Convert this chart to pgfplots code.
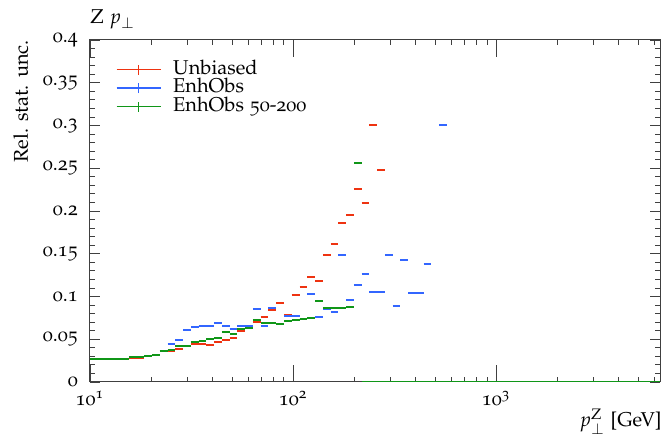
\documentclass[border=0pt]{standalone}
\usepackage[T1]{fontenc}
\usepackage[osf]{mathpazo}
\usepackage{pgfplots}
\usepackage{pgfplotstable}
\pgfplotsset{compat=1.18}
\definecolor{rvred}{HTML}{EE3311}
\definecolor{rvblue}{HTML}{3366FF}
\definecolor{rvgreen}{HTML}{109618}
\newcommand{\lblfont}{\fontsize{10}{12}\selectfont}

% left bin edge, value (last row = right end)
\pgfplotstableread{
x y
10 0.0265
10.919 0.0265
11.923 0.0265
13.020 0.0265
14.217 0.0265
15.524 0.028
16.951 0.028
18.510 0.030
20.212 0.032
22.070 0.036
24.099 0.036
26.315 0.038
28.734 0.042
31.376 0.045
34.261 0.044
37.411 0.043
40.851 0.047
44.607 0.049
48.708 0.052
53.186 0.060
58.077 0.063
63.417 0.070
69.248 0.076
75.615 0.084
82.568 0.092
90.160 0.078
98.449 0.102
107.50 0.111
117.39 0.123
128.18 0.118
139.96 0.149
152.83 0.161
166.88 0.186
182.23 0.195
198.98 0.226
217.27 0.209
237.25 0.301
259.06 0.2475
282.88 0
6400 0
}\unbiased

\pgfplotstableread{
x y
10 0.0265
10.919 0.0265
11.923 0.0265
13.020 0.0265
14.217 0.0265
15.524 0.029
16.951 0.029
18.510 0.030
20.212 0.032
22.070 0.036
24.099 0.045
26.315 0.049
28.734 0.061
31.376 0.064
34.261 0.0655
37.411 0.0655
40.851 0.0686
44.607 0.065
48.708 0.0616
53.186 0.0655
58.077 0.0655
63.417 0.0854
69.248 0.066
75.615 0.086
82.568 0.068
90.160 0.0776
98.449 0.0776
107.50 0.074
117.39 0.1026
128.18 0.0764
139.96 0.085
152.83 0.082
166.88 0.149
182.23 0.096
198.98 0.1134
217.27 0.126
237.25 0.1056
259.06 0.1056
282.88 0.149
308.89 0.0889
337.29 0.1427
368.30 0.1045
402.16 0.1045
439.14 0.138
479.52 0
523.61 0.300
571.75 0
6400 0
}\enhobs

\pgfplotstableread{
x y
10 0.0265
10.919 0.0265
11.923 0.0265
13.020 0.0265
14.217 0.0265
15.524 0.029
16.951 0.029
18.510 0.030
20.212 0.032
22.070 0.036
24.099 0.037
26.315 0.042
28.734 0.042
31.376 0.047
34.261 0.048
37.411 0.050
40.851 0.052
44.607 0.059
48.708 0.0558
53.186 0.062
58.077 0.063
63.417 0.0725
69.248 0.069
75.615 0.069
82.568 0.068
90.160 0.0717
98.449 0.072
107.50 0.0733
117.39 0.0744
128.18 0.0947
139.96 0.086
152.83 0.087
166.88 0.087
182.23 0.088
198.98 0.2565
217.27 0
6400 0
}\enhobsfifty

\begin{document}
\begin{tikzpicture}
\begin{axis}[
  name=main,
  scale only axis,
  width=285pt, height=171pt,
  xmode=log,
  xmin=10, xmax=6400,
  ymin=0, ymax=0.4,
  axis line style={black!75, line width=0.5pt},
  tick style={black!75, line width=0.4pt},
  tick align=inside,
  major tick length=5pt,
  minor tick length=2.7pt,
  xtick={10,100,1000},
  xticklabels={10\textsuperscript{1},10\textsuperscript{2},10\textsuperscript{3}},
  extra x ticks={10,100,1000},
  extra x tick labels={},
  extra x tick style={major tick length=8.5pt},
  minor xtick={20,30,40,50,60,70,80,90,200,300,400,500,600,700,800,900,2000,3000,4000,5000,6000},
  ytick={0,0.05,0.1,0.15,0.2,0.25,0.3,0.35,0.4},
  yticklabels={0,0.05,0.1,0.15,0.2,0.25,0.3,0.35,0.4},
  scaled y ticks=false,
  minor y tick num=4,
  yticklabel style={xshift=-2.5pt},
  xticklabel style={yshift=-1pt},
  tick label style={font=\lblfont},
  legend cell align=left,
  legend style={draw=none, fill=none, at={(0.045,0.942)}, anchor=north west,
    font=\lblfont, row sep=0pt, inner sep=0pt, /tikz/column sep=5pt,
    nodes={inner sep=0.9pt, text height=6pt, text depth=1.5pt}},
  legend image code/.code={
    \draw[#1, line width=0.7pt] (0pt,0pt) -- (22pt,0pt);
    \draw[#1, line width=0.7pt] (11pt,-2.5pt) -- (11pt,2.5pt);
  },
  clip mode=individual,
]
\addplot[rvred, line width=1pt, jump mark left] table[x=x,y=y] {\unbiased};
\addlegendentry{Unbiased}
\addplot[rvblue, line width=1pt, jump mark left] table[x=x,y=y] {\enhobs};
\addlegendentry{EnhObs}
\addplot[rvgreen, line width=1pt, jump mark left] table[x=x,y=y] {\enhobsfifty};
\addlegendentry{EnhObs 50-200}
\end{axis}
\node[anchor=base west, inner sep=0pt, font=\lblfont] at ([yshift=8pt]main.north west) {Z $p_\perp$};
\node[rotate=90, anchor=base east, inner sep=0pt, font=\lblfont] at ([xshift=-31pt]main.north west) {Rel. stat. unc.};
\node[anchor=base east, inner sep=0pt, font=\lblfont] at ([yshift=-22.5pt,xshift=1pt]main.south east) {$p_\perp^{\mathrm{Z}}$ [GeV]};
\path ([xshift=-45pt,yshift=-28pt]main.south west) rectangle ([xshift=1.5pt,yshift=20pt]main.north east);
\end{tikzpicture}
\end{document}
